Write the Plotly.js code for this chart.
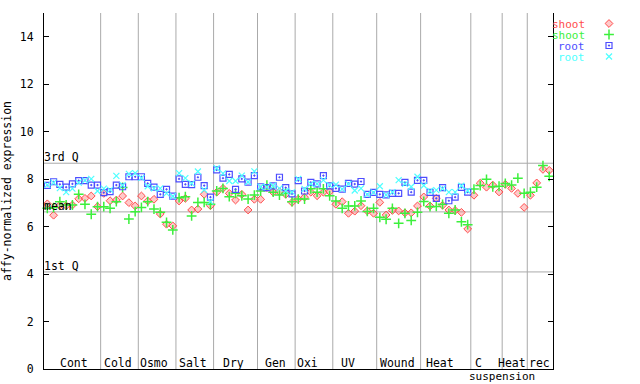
<!DOCTYPE html>
<html>
<head>
<meta charset="utf-8">
<script src="https://cdn.plot.ly/plotly-3.0.1.min.js"></script>
<style>html,body{margin:0;padding:0;background:#fff;}#chart{width:640px;height:384px;}</style>
</head>
<body>
<div id="chart"></div>
<script>
// ---- data ----
const groups = ['Cont','Cold','Osmo','Salt','Dry','Gen','Oxi','UV','Wound','Heat','C','Heat','rec'];
const groupSizes = [9,6,6,6,7,6,6,7,7,8,5,4,4];
const statLabels = ['3rd Q','mean','1st Q'];
const statValues = [8.67, 6.62, 4.09];
const seriesNames = ['shoot','shoot','root','root'];

const shootRep1 = [6.96,6.48,6.90,6.88,6.91,7.17,7.19,7.29,6.84,
  7.40,7.09,7.12,7.29,7.01,6.87,
  7.29,7.08,7.15,6.53,6.10,6.03,
  7.08,7.19,6.70,6.74,7.36,6.88,
  7.45,7.61,7.40,7.12,7.36,6.70,7.15,
  7.15,7.64,7.45,7.47,7.36,7.02,
  7.16,7.24,7.45,7.30,7.45,7.47,
  6.94,7.05,6.56,6.65,6.88,6.66,6.56,
  7.02,6.49,6.68,6.66,6.58,6.58,6.87,
  7.25,6.87,7.19,6.90,6.70,6.68,6.60,5.90,
  7.32,7.83,7.66,7.75,7.46,
  7.78,7.61,7.40,6.81,
  7.32,7.84,8.41,8.37];
const shootRep2 = [6.77,6.80,7.05,6.91,6.91,7.36,6.94,6.52,6.84,
  6.84,6.77,7.05,7.65,6.32,6.63,
  6.81,7.05,6.74,6.60,6.18,5.86,
  7.22,7.26,6.45,7.02,7.02,6.94,
  7.50,7.61,7.26,7.40,7.30,7.16,7.33,
  7.50,7.75,7.45,7.33,7.40,7.05,
  7.16,7.16,7.59,7.45,7.59,7.30,
  7.08,6.77,6.87,6.87,7.08,6.64,6.77,
  6.39,6.31,6.77,6.14,6.56,6.26,6.60,
  7.06,6.84,6.85,6.94,6.56,6.70,6.20,6.08,
  7.58,7.73,7.99,7.68,7.70,
  7.82,7.75,8.04,7.40,
  7.45,7.66,8.57,8.12];
const rootRep1 = [7.74,7.89,7.78,7.66,7.80,7.94,7.94,7.75,7.75,
  7.43,7.47,7.75,7.68,8.10,8.10,
  8.10,7.82,7.66,7.36,7.57,7.28,
  8.01,7.78,7.77,8.08,7.73,7.24,
  8.39,8.04,8.20,7.57,8.01,7.87,8.15,
  7.68,7.64,7.72,8.08,7.64,7.38,
  7.94,7.50,7.86,7.80,8.15,7.72,
  7.61,7.58,7.82,7.79,7.90,7.36,7.44,
  7.36,7.34,7.40,7.40,7.86,7.45,7.95,
  7.95,7.44,7.19,7.64,7.09,7.24,7.65,7.45];
const rootRep2 = [7.76,7.85,7.62,7.45,7.60,7.85,7.95,8.01,7.50,
  7.60,7.55,8.14,7.75,8.22,8.25,
  8.05,7.70,7.61,7.61,7.40,7.28,
  8.25,8.04,7.82,8.32,7.55,7.05,
  8.46,8.24,7.92,7.92,8.15,7.88,8.33,
  7.68,7.66,7.72,7.61,7.50,7.45,
  8.01,7.59,7.80,7.80,7.96,7.75,
  7.77,7.58,7.80,7.52,7.61,7.36,7.44,
  7.70,7.34,7.45,7.96,7.80,7.68,8.10,
  7.73,7.50,7.54,7.60,7.45,7.45,7.72,7.51];

// ---- styling ----
const FONT = 'DejaVu Sans Mono, monospace';
const colors = ['#ff4d4d','#3cf03c','#4d4dff','#4dffff'];
const idx = n => Array.from({length:n}, (_,i)=>i+1);

const markerDefs = [
  {symbol:'diamond', size:6, color:'rgba(255,120,120,0.4)', line:{color:colors[0], width:1}},
  {symbol:'cross-thin-open', size:7, color:colors[1], line:{color:colors[1], width:1.5}},
  {symbol:'square-open-dot', size:6, color:colors[2], line:{color:colors[2], width:1.2}},
  {symbol:'x-thin-open', size:6, color:colors[3], line:{color:colors[3], width:1.2}}
];
const allSeries = [shootRep1, shootRep2, rootRep1, rootRep2];
const traces = allSeries.map((s,k)=>({
  type:'scatter', mode:'markers', x: idx(s.length), y: s,
  marker: markerDefs[k], showlegend:false, hoverinfo:'skip', cliponaxis:false
}));

// custom legend (text left of marker) on a small pixel-coordinate overlay axis
const legY = [23.5, 34.5, 45.5, 56.5];
traces.push(...markerDefs.map((m,k)=>({
  type:'scatter', mode:'markers', x:[609], y:[legY[k]], xaxis:'x2', yaxis:'y2',
  marker:m, showlegend:false, hoverinfo:'skip', cliponaxis:false
})));

// group boundaries
const bounds = [];
let acc = 0;
for (let i=0;i<groupSizes.length-1;i++){ acc += groupSizes[i]; bounds.push(acc+0.5); }

const shapes = [];
bounds.forEach(b=>shapes.push({type:'line', xref:'x', yref:'y domain', x0:b, x1:b, y0:0, y1:1,
  line:{color:'#aaaaaa', width:1}, layer:'below'}));
statValues.forEach(v=>shapes.push({type:'line', xref:'x domain', yref:'y', x0:0, x1:1, y0:v, y1:v,
  line:{color:'#aaaaaa', width:1}, layer:'below'}));

const annotations = [];
const labelX = [5.25,12.3,18.0,24.2,30.7,37.3,42.4,49.0,56.8,63.6,69.8,75.1,79.5];
groups.forEach((g,i)=>annotations.push({text:g, x:labelX[i], xref:'x', y:0, yref:'y domain',
  yanchor:'bottom', xanchor:'center', showarrow:false, yshift:-3, font:{family:FONT, size:11.5, color:'#000'}}));
annotations.push({text:'suspension', x:73.5, xref:'x', y:0, yref:'y domain', yanchor:'top', xanchor:'center',
  showarrow:false, yshift:1, font:{family:FONT, size:11, color:'#000'}});
statLabels.forEach((t,i)=>annotations.push({text:t, x:0, xref:'x domain', y:statValues[i], yref:'y',
  xanchor:'left', yanchor:'bottom', showarrow:false, xshift:-2, yshift:-3, font:{family:FONT, size:11.5, color:'#000'}}));
seriesNames.forEach((t,k)=>annotations.push({text:t, x:586, xref:'x2', y:legY[k], yref:'y2',
  xanchor:'right', yanchor:'middle', showarrow:false, height:10, borderpad:0, valign:'middle',
  font:{family:FONT, size:11, color:colors[k]}}));

const layout = {
  width:640, height:384, margin:{l:0,r:0,t:0,b:0},
  paper_bgcolor:'#fff', plot_bgcolor:'rgba(0,0,0,0)', showlegend:false,
  font:{family:FONT, size:11.5, color:'#000'},
  xaxis:{domain:[44/640, 553/640], range:[0.47, 81.6], showgrid:false, zeroline:false,
    showticklabels:false, ticks:'', showline:true, linecolor:'#000', linewidth:1, anchor:'y', fixedrange:true},
  yaxis:{domain:[15/384, 371/384], range:[0,15], dtick:2, tick0:0, showgrid:false, zeroline:false,
    ticks:'inside', ticklen:5, tickcolor:'#000', showline:true, linecolor:'#000', linewidth:1, mirror:'ticks',
    ticklabelstandoff:7, tickfont:{family:FONT, size:11.5, color:'#000'},
    title:{text:'affy-normalized expression', font:{family:FONT, size:11.5, color:'#000'}, standoff:6},
    anchor:'x', fixedrange:true},
  xaxis2:{domain:[0.875,1], range:[560,640], visible:false, anchor:'y2', fixedrange:true},
  yaxis2:{domain:[0.8,1], range:[76.8,0], visible:false, anchor:'x2', fixedrange:true},
  shapes:shapes, annotations:annotations
};
Plotly.newPlot('chart', traces, layout, {staticPlot:true, displayModeBar:false});
</script>
</body>
</html>
